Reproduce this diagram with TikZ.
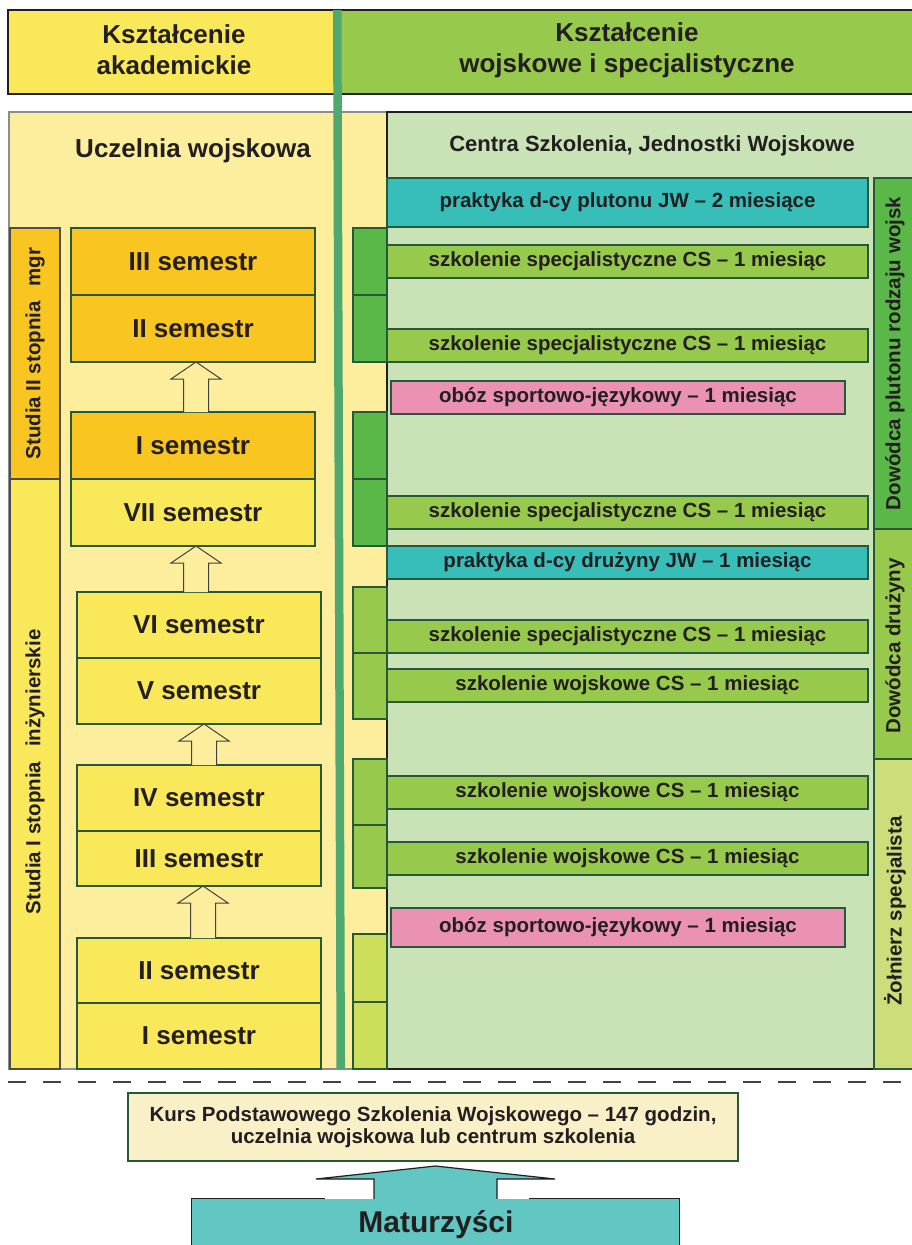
\documentclass[tikz,border=0pt]{standalone}
\usepackage{fontspec}
\setmainfont{Liberation Sans}
\usetikzlibrary{calc}
\definecolor{txt}{RGB}{35,31,32}
\definecolor{bdr}{RGB}{38,88,58}
\definecolor{hbdr}{RGB}{35,31,32}
\definecolor{hdrY}{RGB}{249,232,90}
\definecolor{hdrG}{RGB}{150,201,76}
\definecolor{paleY}{RGB}{252,238,156}
\definecolor{paleG}{RGB}{201,226,182}
\definecolor{barG}{RGB}{79,168,112}
\definecolor{orng}{RGB}{249,197,32}
\definecolor{semY}{RGB}{249,232,90}
\definecolor{dkG}{RGB}{89,184,71}
\definecolor{mdG}{RGB}{150,201,76}
\definecolor{ylG}{RGB}{205,222,90}
\definecolor{ylG2}{RGB}{204,221,122}
\definecolor{tealA}{RGB}{56,190,185}
\definecolor{pinkA}{RGB}{235,145,180}
\definecolor{creamA}{RGB}{250,240,200}
\definecolor{tealB}{RGB}{98,198,194}
\newcommand{\bx}[7]{\node[#6, minimum width=#4pt-#2pt, minimum height=#5pt-#3pt] (#1) at ({(#2+#4)/2},{(#3+#5)/2}) {#7};}
\tikzset{
  box/.style={draw=bdr, line width=1.2pt, inner sep=0pt, outer sep=0pt, text=txt},
  hbox/.style={draw=hbdr, line width=1.2pt, inner sep=0pt, outer sep=0pt},
  hdrf/.style={text=txt, align=center, font=\fontsize{26}{31}\selectfont\bfseries},
  semf/.style={box, font=\fontsize{26}{30}\selectfont\bfseries},
  barf/.style={box, font=\fontsize{20.5}{24}\selectfont\bfseries},
  vtxt/.style={rotate=90, text=txt, font=\fontsize{20.5}{24}\selectfont\bfseries},
  blockarr/.style={draw=txt!85, line width=1pt, fill=paleY, line join=miter},
}
\newcommand{\blockarrow}[3]{%
  \draw[blockarr] let \p1=(#1.north), \p2=(#2.south) in
   (\x1+#3pt-12.5pt,\y1) -- (\x1+#3pt-12.5pt,\y2-17pt) -- (\x1+#3pt-25pt,\y2-17pt)
   -- (\x1+#3pt,\y2) -- (\x1+#3pt+25pt,\y2-17pt) -- (\x1+#3pt+12.5pt,\y2-17pt)
   -- (\x1+#3pt+12.5pt,\y1);}
\begin{document}
\begin{tikzpicture}[x=1pt,y=-1pt]
\useasboundingbox (0,0) rectangle (912,1245);
% headers
\bx{hY}{8}{10}{337}{94}{hbox, fill=hdrY}{}
\bx{hG}{337}{10}{913}{94}{hbox, fill=hdrG}{}
\node[hdrf] at (174,50) {Kształcenie\\akademickie};
\node[hdrf] at (627,50) {Kształcenie\\wojskowe i specjalistyczne};
% panels
\bx{pL}{9}{112}{387}{1069}{draw=black!45, line width=1.2pt, inner sep=0pt, fill=paleY}{}
\bx{pR}{387}{112}{913}{1069}{draw=txt, line width=1.2pt, inner sep=0pt, fill=paleG}{}
% vertical separator bar
\fill[barG] (333,10) -- (341.5,10) -- (345,1069) -- (336.5,1069) -- cycle;
\node[hdrf] (uw) at (193,151) {Uczelnia wojskowa};
\node[text=txt, font=\fontsize{22}{26}\selectfont\bfseries] (cs) at (652,146) {Centra Szkolenia, Jednostki Wojskowe};
% studia
\bx{st2}{10}{228}{60}{479}{box, draw=txt!80, fill=orng}{}
\bx{st1}{10}{479}{60}{1069}{box, draw=txt!80, fill=semY}{}
\node[vtxt] at (35,353.5) {Studia II stopnia\hspace{0.45em} mgr};
\node[vtxt] at (35,772) {Studia I stopnia\hspace{0.45em} inżynierskie};
% semesters
\bx{mIII}{71}{228}{315}{295}{semf, fill=orng}{III semestr}
\bx{mII}{71}{295}{315}{362}{semf, fill=orng}{II semestr}
\bx{mI}{71}{412}{315}{479}{semf, fill=orng}{I semestr}
\bx{s7}{71}{479}{315}{546}{semf, fill=semY}{VII semestr}
\bx{s6}{77}{592}{321}{658}{semf, fill=semY}{VI semestr}
\bx{s5}{77}{658}{321}{724}{semf, fill=semY}{V semestr}
\bx{s4}{77}{765}{321}{831}{semf, fill=semY}{IV semestr}
\bx{s3}{77}{831}{321}{886}{semf, fill=semY}{III semestr}
\bx{s2}{77}{938}{321}{1003}{semf, fill=semY}{II semestr}
\bx{s1}{77}{1003}{321}{1069}{semf, fill=semY}{I semestr}
\blockarrow{mI}{mII}{3}
\blockarrow{s6}{s7}{-3}
\blockarrow{s4}{s5}{5}
\blockarrow{s2}{s3}{4}
% small squares
\bx{q1}{353}{228}{387}{295}{box, fill=dkG}{}
\bx{q2}{353}{295}{387}{362}{box, fill=dkG}{}
\bx{q3}{353}{412}{387}{479}{box, fill=dkG}{}
\bx{q4}{353}{479}{387}{546}{box, fill=dkG}{}
\bx{q5}{353}{587}{387}{653}{box, fill=mdG}{}
\bx{q6}{353}{653}{387}{719}{box, fill=mdG}{}
\bx{q7}{353}{759}{387}{825}{box, fill=mdG}{}
\bx{q8}{353}{825}{387}{888}{box, fill=mdG}{}
\bx{q9}{353}{934}{387}{1002}{box, fill=ylG}{}
\bx{q10}{353}{1002}{387}{1069}{box, fill=ylG}{}
% bars
\bx{t1}{387}{178}{868}{227}{barf, fill=tealA}{praktyka d-cy plutonu JW -- 2 miesiące}
\bx{b1}{387}{245}{868}{278}{barf, fill=mdG}{szkolenie specjalistyczne CS -- 1 miesiąc}
\bx{b2}{387}{329}{868}{362}{barf, fill=mdG}{szkolenie specjalistyczne CS -- 1 miesiąc}
\bx{p1}{391}{381}{845}{414}{barf, fill=pinkA}{obóz sportowo-językowy -- 1 miesiąc}
\bx{b3}{387}{496}{868}{529}{barf, fill=mdG}{szkolenie specjalistyczne CS -- 1 miesiąc}
\bx{t2}{387}{546}{868}{579}{barf, fill=tealA}{praktyka d-cy drużyny JW -- 1 miesiąc}
\bx{b4}{387}{620}{868}{653}{barf, fill=mdG}{szkolenie specjalistyczne CS -- 1 miesiąc}
\bx{b5}{387}{669}{868}{702}{barf, fill=mdG}{szkolenie wojskowe CS -- 1 miesiąc}
\bx{b6}{387}{776}{868}{809}{barf, fill=mdG}{szkolenie wojskowe CS -- 1 miesiąc}
\bx{b7}{387}{842}{868}{875}{barf, fill=mdG}{szkolenie wojskowe CS -- 1 miesiąc}
\bx{p2}{391}{908}{845}{947}{barf, fill=pinkA}{obóz sportowo-językowy -- 1 miesiąc}
% right labels
\bx{L1}{874}{178}{913}{529}{box, fill=dkG}{}
\bx{L2}{874}{529}{913}{759}{box, fill=mdG}{}
\bx{L3}{874}{759}{913}{1069}{box, fill=ylG2}{}
\node[vtxt] at (895,353.5) {Dowódca plutonu rodzaju wojsk};
\node[vtxt] at (895,646) {Dowódca drużyny};
\node[vtxt] at (895,911) {Żołnierz specjalista};
% dashed separator
\draw[txt!85, line width=1.3pt, dash pattern=on 18pt off 17pt] (8,1082) -- (912,1082);
% bottom
\bx{kurs}{128}{1093}{738}{1161}{box, fill=creamA, align=center, font=\fontsize{20.5}{22}\selectfont\bfseries}{Kurs Podstawowego Szkolenia Wojskowego -- 147 godzin,\\uczelnia wojskowa lub centrum szkolenia}
\bx{mat}{191.5}{1199}{679.5}{1262}{inner sep=0pt, fill=tealB}{}
\draw[txt, line width=1.2pt] (mat.north west) -- (mat.south west) -- (mat.south east) -- (mat.north east) -- ([xshift=-151pt]mat.north east);
\draw[txt, line width=1.2pt] (mat.north west) -- ([xshift=134pt]mat.north west);
\fill[tealB] let \p1=(mat.north), \p2=(kurs.south) in
  (\x1-61.5pt,\y1-2pt) -- (\x1-61.5pt,\y2-18pt) -- (\x1-119.5pt,\y2-18pt) -- (\x1,\y2-5pt)
  -- (\x1+119.5pt,\y2-18pt) -- (\x1+61.5pt,\y2-18pt) -- (\x1+61.5pt,\y1-2pt) -- cycle;
\draw[txt, line width=1.2pt, line join=miter] let \p1=(mat.north), \p2=(kurs.south) in
  (\x1-61.5pt,\y1) -- (\x1-61.5pt,\y2-18pt) -- (\x1-119.5pt,\y2-18pt) -- (\x1,\y2-5pt)
  -- (\x1+119.5pt,\y2-18pt) -- (\x1+61.5pt,\y2-18pt) -- (\x1+61.5pt,\y1);
\node[text=txt, font=\fontsize{30}{34}\selectfont\bfseries] (matT) at (436,1225) {Maturzyści};
\end{tikzpicture}
\end{document}
